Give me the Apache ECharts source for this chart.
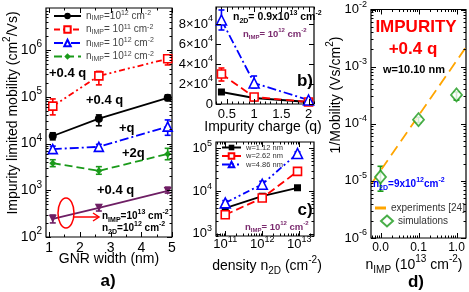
<!DOCTYPE html>
<html><head><meta charset="utf-8">
<script src="https://cdn.jsdelivr.net/npm/echarts@6/dist/echarts.min.js"></script>
<style>html,body{margin:0;padding:0;background:#fff}#c{width:469px;height:292px}</style>
</head><body><div id="c"></div><script>
// ---------- Panel a: mobility vs GNR width ----------
const widthsA = [1.12, 2.62, 4.86];
const aBlack = [1.45e4, 3.4e4, 9.5e4];
const aBlackErr = [[1.2e4, 1.7e4], [2.4e4, 4.1e4], [8.3e4, 1.1e5]];
const aRed = [6.3e4, 2.8e5, 6.5e5];
const aRedErr = [[4.1e4, 9e4], [1.8e5, 3.5e5], [4.8e5, 7.9e5]];
const aBlue = [7.6e3, 8.5e3, 2.3e4];
const aBlueErr = [[6.5e3, 8.8e3], [7.5e3, 9.6e3], [1.5e4, 3.2e4]];
const aGreen = [3.8e3, 2.6e3, 6e3];
const aGreenErr = [[3.2e3, 4.5e3], [2.2e3, 3.2e3], [4.5e3, 7.9e3]];
const aPurple = [245, 420, 970];
const aPurpleErr = [[200, 295], [360, 490], [870, 1170]];
const aLegend = ['n_{IMP}=10^{12} cm^{-2}', 'n_{IMP}= 10^{11} cm^{-2}', 'n_{IMP}= 10^{12} cm^{-2}', 'n_{IMP}= 10^{12} cm^{-2}'];

// ---------- Panel b: mobility vs impurity charge ----------
const chargesB = [0.4, 1, 2];
const bBlack = [1.2e4, 0.6e4, 0.2e4];
const bRed = [3e4, 0.7e4, 0.2e4];
const bRedErr = [[2.3e4, 3.6e4], [0.6e4, 0.8e4], [0.15e4, 0.25e4]];
const bBlue = [8.4e4, 2.1e4, 0.4e4];
const bBlueErr = [[7.4e4, 9.4e4], [1.6e4, 2.8e4], [0.3e4, 0.5e4]];

// ---------- Panel c: mobility vs density ----------
const densC = [1e11, 1e12, 9e12];
const cBlack = [4e3, 7.6e3, 1.2e4];
const cRed = [2.8e3, 6.9e3, 2.9e4];
const cRedErr = [[2.5e3, 3.1e3], [6.0e3, 7.9e3], [2.5e4, 3.4e4]];
const cBlue = [5.3e3, 1.45e4, 7.6e4];
const cBlueErr = [[4.7e3, 6.0e3], [1.25e4, 1.7e4], [7.0e4, 8.3e4]];
const cLegend = ['w=1.12 nm', 'w=2.62 nm', 'w=4.86 nm'];

// ---------- Panel d: 1/mobility vs n_IMP ----------
const nImpD = [0.01, 0.1, 1.0];
const dSim = [1.17e-5, 1.18e-4, 3.2e-4];
const dSimErr = [[6.6e-6, 1.8e-5], [1.05e-4, 1.3e-4], [2.6e-4, 3.6e-4]];
const dExpN = [0.0059, 1.7];
const dExpInvMu = [9.1e-6, 2.1e-3];

// ---------- helpers ----------
const FF = "'Liberation Sans', Arial, sans-serif";
const L10 = Math.log10;
function R(s) {
  let out = '', buf = '';
  for (let i = 0; i < s.length; i++) {
    const ch = s[i];
    if ((ch === '^' || ch === '_') && s[i + 1] === '{') {
      if (buf) out += '{b|' + buf + '}';
      buf = '';
      const j = s.indexOf('}', i);
      out += '{' + (ch === '^' ? 'sup' : 'sub') + '|' + s.slice(i + 2, j) + '}';
      i = j;
    } else buf += ch;
  }
  if (buf) out += '{b|' + buf + '}';
  return out;
}
function rich(size, color, weight, kk) {
  const s2 = Math.round(size * 0.68);
  const k = kk || Math.round(size * 0.75);
  const base = { fontSize: size, color: color, fill: color, fontWeight: weight || 'normal', fontFamily: FF, lineHeight: size };
  return {
    b: base,
    sup: Object.assign({}, base, { fontSize: s2, lineHeight: s2, padding: [0, 0, k, 0] }),
    sub: Object.assign({}, base, { fontSize: s2, lineHeight: s2, padding: [k, 0, 0, 0] })
  };
}
const isMult = (v, m) => Math.abs(v / m - Math.round(v / m)) < 1e-6;

function T(x, y, s, size, color, weight, align, rot) {
  return {
    type: 'text', x: x, y: y, rotation: rot || 0, z: 50,
    style: { text: R(s), fill: color, rich: rich(size, color, weight), align: align || 'left', verticalAlign: 'middle' }
  };
}

function logMinor(lo, hi) {
  const out = [];
  for (let n = Math.floor(lo) - 1; n <= Math.ceil(hi); n++)
    for (let k = 2; k <= 9; k++) { const v = n + L10(k); if (v > lo + 1e-9 && v < hi - 1e-9) out.push(v); }
  return out;
}
function linT(lo, hi, step) {
  const out = [];
  for (let i = Math.ceil(lo / step - 1e-9); i * step <= hi + 1e-9; i++) out.push(+(i * step).toFixed(6));
  return out;
}

function tickSeries(gi, xr, yr, yMaj, yMin, xMaj, xMin) {
  const data = [];
  yMaj.forEach(v => data.push([xr[0], v, 0, 5]));
  yMin.forEach(v => data.push([xr[0], v, 0, 2.5]));
  xMaj.forEach(v => data.push([v, yr[0], 1, 5]));
  xMin.forEach(v => data.push([v, yr[0], 1, 2.5]));
  return {
    type: 'custom', xAxisIndex: gi, yAxisIndex: gi, silent: true, z: 6, data: data,
    renderItem: function (p, api) {
      const cs = p.coordSys;
      const pt = api.coord([api.value(0), api.value(1)]);
      const Ln = api.value(3);
      const st = { stroke: '#000', lineWidth: 1 };
      if (api.value(2) === 0) {
        const y = Math.round(pt[1]) + 0.5;
        return { type: 'group', children: [
          { type: 'line', shape: { x1: cs.x, y1: y, x2: cs.x + Ln, y2: y }, style: st },
          { type: 'line', shape: { x1: cs.x + cs.width, y1: y, x2: cs.x + cs.width - Ln, y2: y }, style: st }
        ] };
      }
      const x = Math.round(pt[0]) + 0.5;
      return { type: 'group', children: [
        { type: 'line', shape: { x1: x, y1: cs.y + cs.height, x2: x, y2: cs.y + cs.height - Ln }, style: st },
        { type: 'line', shape: { x1: x, y1: cs.y, x2: x, y2: cs.y + Ln }, style: st }
      ] };
    }
  };
}

function errSeries(gi, xs, errs, color, fx, fy) {
  return {
    type: 'custom', xAxisIndex: gi, yAxisIndex: gi, silent: true, z: 2,
    data: xs.map((x, i) => [fx(x), fy(errs[i][0]), fy(errs[i][1])]),
    renderItem: function (p, api) {
      const lo = api.coord([api.value(0), api.value(1)]);
      const hi = api.coord([api.value(0), api.value(2)]);
      const w = 3, st = { stroke: color, lineWidth: 1.6 };
      return { type: 'group', children: [
        { type: 'line', shape: { x1: lo[0], y1: lo[1], x2: hi[0], y2: hi[1] }, style: st },
        { type: 'line', shape: { x1: lo[0] - w, y1: lo[1], x2: lo[0] + w, y2: lo[1] }, style: st },
        { type: 'line', shape: { x1: hi[0] - w, y1: hi[1], x2: hi[0] + w, y2: hi[1] }, style: st }
      ] };
    }
  };
}

function lineS(name, gi, xs, ys, fx, fy, color, dash, symbol, size, open, rot) {
  return {
    name: name, type: 'line', xAxisIndex: gi, yAxisIndex: gi, z: 4,
    data: xs.map((x, i) => [fx(x), fy(ys[i])]),
    symbol: symbol, symbolSize: size, symbolRotate: rot || 0, showSymbol: true,
    lineStyle: { color: color, width: 1.8, type: dash },
    itemStyle: { color: open ? '#fff' : color, borderColor: color, borderWidth: open ? 1.6 : 0 },
    emphasis: { disabled: true }
  };
}

const id = v => v;
const fmtPow = v => isMult(v, 1) ? '{b|10}{sup|' + Math.round(v) + '}' : '';

function axis(kind, gi, min, max, interval, fmt, size, margin) {
  return {
    type: 'value', gridIndex: gi, min: min, max: max, interval: interval,
    axisLine: { show: false }, axisTick: { show: false }, splitLine: { show: false },
    axisLabel: { formatter: fmt, margin: margin, rich: rich(size, '#000'), color: '#000', fontFamily: FF, fontSize: size, showMinLabel: true, showMaxLabel: true }
  };
}

const gridStyle = { show: true, borderColor: '#000', borderWidth: 1.2, backgroundColor: 'transparent', containLabel: false };

// ranges (log10 units where logarithmic)
const aX = [0.9, 5], aY = [2, 6.9];
const bX = [0.3, 2.1], bY = [0, 97000];
const cX = [10.75, 13.4], cY = [2.95, 5.15];
const dX = [-2.25, 0.25], dY = [-6, -2];

const option = {
  animation: false,
  textStyle: { fontFamily: FF },
  grid: [
    Object.assign({ left: 46, top: 8, width: 126, height: 229 }, gridStyle),
    Object.assign({ left: 216, top: 7, width: 98, height: 97 }, gridStyle),
    Object.assign({ left: 216, top: 142, width: 98, height: 94 }, gridStyle),
    Object.assign({ left: 371, top: 9, width: 96, height: 229 }, gridStyle)
  ],
  xAxis: [
    axis('x', 0, aX[0], aX[1], 0.1, v => isMult(v, 1) ? '{b|' + Math.round(v) + '}' : '', 14, 4),
    axis('x', 1, bX[0], bX[1], 0.1, v => isMult(v, 0.5) ? '{b|' + (Math.round(v * 2) / 2) + '}' : '', 13, 4),
    axis('x', 2, cX[0], cX[1], 0.05, fmtPow, 13, 2),
    axis('x', 3, dX[0], dX[1], 0.05, v => isMult(v, 1) ? '{b|' + Math.pow(10, Math.round(v)).toFixed(1) + '}' : '', 12, 4)
  ],
  yAxis: [
    axis('y', 0, aY[0], aY[1], 0.1, fmtPow, 14, 4),
    axis('y', 1, bY[0], bY[1], 20000, v => v === 0 ? '{b|0}' : (v <= 80000 && isMult(v, 20000) ? '{b|' + (v / 1e4) + '×10}{sup|4}' : ''), 13, 3),
    axis('y', 2, cY[0], cY[1], 0.05, fmtPow, 13, 4),
    axis('y', 3, dY[0], dY[1], 1, fmtPow, 13, 4)
  ],
  legend: [
    {
      data: ['a1', 'a2', 'a3', 'a4'], orient: 'vertical', left: 53, top: 10, padding: 0, itemWidth: 27, itemHeight: 8, itemGap: 1.5,
      formatter: n => R(aLegend[+n[1] - 1]), textStyle: { rich: rich(10, '#444', 'normal', 5) }, selectedMode: false
    },
    {
      data: ['c1', 'c2', 'c3'], orient: 'vertical', left: 221, top: 143.5, padding: 0, itemWidth: 19, itemHeight: 7, itemGap: 0.5,
      formatter: n => R(cLegend[+n[1] - 1]), textStyle: { rich: rich(7.5, '#333', 'normal', 3) }, selectedMode: false
    },
    {
      data: [{ name: 'experiments [24]', icon: 'rect' }], orient: 'vertical', left: 375, top: 203, padding: 0, itemWidth: 11, itemHeight: 3,
      formatter: n => R(n), textStyle: { rich: rich(10, '#333') }, selectedMode: false
    },
    {
      data: ['simulations'], orient: 'vertical', left: 380, top: 214.5, padding: 0, itemWidth: 12, itemHeight: 11,
      formatter: n => R(n), textStyle: { rich: rich(10, '#333') }, selectedMode: false
    }
  ],
  series: [
    // panel a
    errSeries(0, widthsA, aBlackErr, '#000', id, L10),
    errSeries(0, widthsA, aRedErr, '#ff0000', id, L10),
    errSeries(0, widthsA, aBlueErr, '#0000ff', id, L10),
    errSeries(0, widthsA, aGreenErr, '#1a9a1a', id, L10),
    errSeries(0, widthsA, aPurpleErr, '#6e1e64', id, L10),
    lineS('a1', 0, widthsA, aBlack, id, L10, '#000', 'solid', 'circle', 8, false),
    lineS('a2', 0, widthsA, aRed, id, L10, '#ff0000', [6, 3, 2, 3, 2, 3], 'rect', 8, true),
    lineS('a3', 0, widthsA, aBlue, id, L10, '#0000ff', [9, 3, 2, 3], 'triangle', 9, true),
    lineS('a4', 0, widthsA, aGreen, id, L10, '#1a9a1a', [8, 4], 'diamond', 7, false),
    lineS('a5', 0, widthsA, aPurple, id, L10, '#6e1e64', 'solid', 'triangle', 8, false, 180),
    tickSeries(0, aX, aY, linT(2, 6.9, 1), logMinor(2, 6.9), linT(1, 5, 1), linT(0.9, 5, 0.5).filter(v => !isMult(v, 1))),
    // panel b
    errSeries(1, chargesB, bRedErr, '#ff0000', id, id),
    errSeries(1, chargesB, bBlueErr, '#0000ff', id, id),
    lineS('b1', 1, chargesB, bBlack, id, id, '#000', 'solid', 'rect', 7, false),
    lineS('b2', 1, chargesB, bRed, id, id, '#ff0000', [8, 4], 'rect', 8, true),
    lineS('b3', 1, chargesB, bBlue, id, id, '#0000ff', [9, 3, 2, 3], 'triangle', 10, true),
    tickSeries(1, bX, bY, linT(0, 80000, 20000), linT(10000, 90000, 20000), linT(0.5, 2, 0.5), linT(0.3, 2.1, 0.1).filter(v => !isMult(v, 0.5))),
    // panel c
    errSeries(2, densC, cRedErr, '#ff0000', L10, L10),
    errSeries(2, densC, cBlueErr, '#0000ff', L10, L10),
    lineS('c1', 2, densC, cBlack, L10, L10, '#000', 'solid', 'rect', 7, false),
    lineS('c2', 2, densC, cRed, L10, L10, '#ff0000', [8, 4], 'rect', 8, true),
    lineS('c3', 2, densC, cBlue, L10, L10, '#0000ff', [7, 3, 2, 3, 2, 3], 'triangle', 10, true),
    tickSeries(2, cX, cY, linT(3, 5, 1), logMinor(2.95, 5.15), linT(11, 13, 1), logMinor(10.75, 13.4)),
    // panel d
    lineS('experiments [24]', 3, dExpN, dExpInvMu, L10, L10, '#ffa500', [11, 6], 'none', 0, false),
    errSeries(3, nImpD, dSimErr, '#1a9a1a', L10, L10),
    {
      name: 'simulations', type: 'scatter', xAxisIndex: 3, yAxisIndex: 3, z: 4,
      data: nImpD.map((x, i) => [L10(x), L10(dSim[i])]),
      symbol: 'diamond', symbolSize: [11, 13],
      itemStyle: { color: '#fff', borderColor: '#1a9a1a', borderWidth: 1.8 }
    },
    tickSeries(3, dX, dY, linT(-6, -2, 1), logMinor(-6, -2), linT(-2, 0, 1), logMinor(-2.25, 0.25))
  ],
  graphic: [
    // axis titles
    T(13, 113, 'Impurity limited mobility (cm^{2}/Vs)', 14, '#000', 'normal', 'center', Math.PI / 2),
    T(109, 259, 'GNR width (nm)', 14, '#000', 'normal', 'center'),
    T(263, 127, 'Impurity charge (q)', 14, '#000', 'normal', 'center'),
    T(267, 266, 'density n_{2D} (cm^{-2})', 14, '#000', 'normal', 'center'),
    T(336, 95, '1/Mobility (Vs/cm^{2})', 14, '#000', 'normal', 'center', Math.PI / 2),
    T(414, 265, 'n_{IMP} (10^{13} cm^{-2})', 14, '#000', 'normal', 'center'),
    // panel labels
    T(108, 281, 'a)', 17, '#000', 'bold', 'center'),
    T(305, 81, 'b)', 17, '#000', 'bold', 'center'),
    T(305, 210, 'c)', 17, '#000', 'bold', 'center'),
    T(416, 282, 'd)', 17, '#000', 'bold', 'center'),
    // panel a notes
    T(49, 73, '+0.4 q', 13, '#000', 'bold'),
    T(86, 100, '+0.4 q', 13, '#000', 'bold'),
    T(119, 128, '+q', 13, '#000', 'bold'),
    T(122, 153, '+2q', 13, '#000', 'bold'),
    T(97, 190, '+0.4 q', 13, '#000', 'bold'),
    T(102, 216, 'n_{IMP}=10^{13} cm^{-2}', 10, '#000', 'bold'),
    T(102, 228, 'n_{2D}=10^{12} cm^{-2}', 10, '#000', 'bold'),
    { type: 'ellipse', shape: { cx: 66, cy: 213, rx: 8, ry: 15 }, style: { fill: 'none', stroke: '#ff0000', lineWidth: 1.5 }, z: 50 },
    { type: 'polyline', shape: { points: [[74, 217], [98, 217]] }, style: { stroke: '#ff0000', lineWidth: 1.5, fill: 'none' }, z: 50 },
    { type: 'polyline', shape: { points: [[93, 213], [99, 217], [93, 221]] }, style: { stroke: '#ff0000', lineWidth: 1.5, fill: 'none' }, z: 50 },
    // panel b notes
    T(233, 17, 'n_{2D}= 0.9x10^{13} cm^{-2}', 10.5, '#000', 'bold'),
    T(243, 34, 'n_{IMP}= 10^{12} cm^{-2}', 9.5, '#7a2a6e', 'bold'),
    // panel c notes
    T(245, 227, 'n_{IMP}= 10^{12} cm^{-2}', 9.5, '#7a2a6e', 'bold'),
    // panel d notes
    T(416, 27, 'IMPURITY', 17, '#ff0000', 'bold', 'center'),
    T(413, 49, '+0.4 q', 17, '#ff0000', 'bold', 'center'),
    T(414, 70, 'w=10.10 nm', 11, '#000', 'bold', 'center'),
    T(373, 184, 'n_{2D}=9x10^{12}cm^{-2}', 10, '#0000ff', 'bold')
  ]
};
const chart = echarts.init(document.getElementById('c'), null, { renderer: 'canvas' });
chart.setOption(option);
</script></body></html>
